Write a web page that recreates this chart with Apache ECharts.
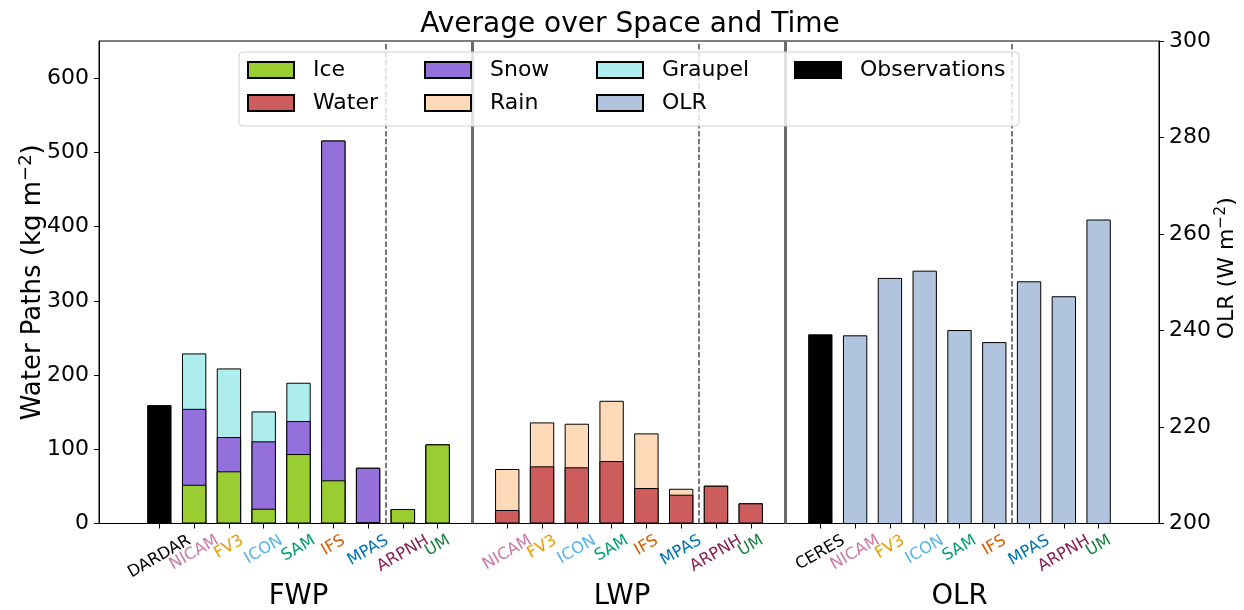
<!DOCTYPE html>
<html>
<head>
<meta charset="utf-8">
<script src="https://cdn.jsdelivr.net/npm/echarts@6/dist/echarts.min.js"></script>
<style>
  html, body { margin: 0; padding: 0; background: #fff; }
  #chart { width: 1244px; height: 610px; }
</style>
</head>
<body>
<div id="chart"></div>
<script>
// ---- data -------------------------------------------------------------
const models      = ['NICAM', 'FV3', 'ICON', 'SAM', 'IFS', 'MPAS', 'ARPNH', 'UM'];
const modelColors = ['#cc79a7', '#e69f00', '#56b4e9', '#009e73', '#d55e00', '#0072b2', '#882255', '#1a8040'];
const obsNames    = ['DARDAR', 'CERES'];
const groupNames  = ['FWP', 'LWP', 'OLR'];

// frozen water path components (kg m-2)
const iceFWP     = [52.2, 70.3, 19.9, 93.6, 58.2, 1.6, 19.5, 106.6];
const snowFWP    = [102.3, 46.2, 90.8, 44.4, 457.7, 73.5, 0, 0];
const graupelFWP = [74.6, 92.4, 40.3, 51.6, 0, 0, 0, 0];
const dardarFWP  = 159.5;

// liquid water path components (kg m-2)
const waterLWP = [18.2, 77.0, 75.7, 84.1, 47.8, 38.8, 50.9, 27.2];
const rainLWP  = [55.2, 59.2, 58.7, 81.2, 73.6, 8.0, 0, 0];

// outgoing longwave radiation (W m-2)
const olrModels = [239.0, 250.9, 252.4, 240.1, 237.6, 250.2, 247.1, 263.0];
const ceresOLR  = 239.2;

const pathTicks = [0, 100, 200, 300, 400, 500, 600];
const olrTicks  = [200, 220, 240, 260, 280, 300];

// ---- layout -----------------------------------------------------------
const FONT = '"DejaVu Sans", "Liberation Sans", sans-serif';
const BAR_W = 0.7;                       // bar width in slot units
const dardarSlot = 0;
const fwpSlot = models.map((_, i) => 1 + i);
const lwpSlot = models.map((_, i) => 10 + i);
const ceresSlot = 19;
const olrSlot = models.map((_, i) => 20 + i);
const sectionBreaks = [9, 18];
const subBreaks = [6.5, 15.5, 24.5];
const groupSlots = [4, 13.3, 23];

const lastSlot = 27;
const span = lastSlot + BAR_W;
const xMin = -BAR_W / 2 - 0.05 * span;
const xMax = lastSlot + BAR_W / 2 + 0.05 * span;

const GRID = { left: 99, right: 85, top: 41, bottom: 86.5 };
const gridWidth = 1244 - GRID.left - GRID.right;
const barPx = BAR_W * gridWidth / (xMax - xMin);

// running totals so each stacked layer is painted from the baseline up,
// tallest layer first
const sumOf = (...parts) => parts[0].map((_, i) => parts.reduce((s, p) => s + p[i], 0));
const snowTop    = sumOf(iceFWP, snowFWP);
const graupelTop = sumOf(iceFWP, snowFWP, graupelFWP);
const rainTop    = sumOf(waterLWP, rainLWP);

const pairs = (slots, vals) => slots.map((x, i) => [x, vals[i]]);

const tickSlots = [dardarSlot, ...fwpSlot, ...lwpSlot, ceresSlot, ...olrSlot];
const tickLabels = [
  { slot: dardarSlot, text: obsNames[0], color: '#000' },
  ...fwpSlot.map((s, i) => ({ slot: s, text: models[i], color: modelColors[i] })),
  ...lwpSlot.map((s, i) => ({ slot: s, text: models[i], color: modelColors[i] })),
  { slot: ceresSlot, text: obsNames[1], color: '#000' },
  ...olrSlot.map((s, i) => ({ slot: s, text: models[i], color: modelColors[i] }))
];

const COLORS = {
  Ice: '#9acd32', Snow: '#9370db', Graupel: '#afeeee',
  Water: '#cd5c5c', Rain: '#ffdab9', OLR: '#b0c4de', Observations: '#000000'
};

function barSeries(name, data, yAxisIndex, extra) {
  return Object.assign({
    name, type: 'bar', data, yAxisIndex,
    barWidth: barPx, barGap: '-100%',
    itemStyle: { color: COLORS[name], borderColor: '#000', borderWidth: 1 },
    emphasis: { disabled: true },
    animation: false
  }, extra || {});
}

const series = [
  barSeries('Observations', [[dardarSlot, dardarFWP]], 0, {
    markLine: {
      silent: true, symbol: ['none', 'none'], label: { show: false }, animation: false,
      data: [
        ...sectionBreaks.map(x => ({ xAxis: x, lineStyle: { color: '#6a6a6a', width: 3, type: 'solid' } })),
        ...subBreaks.map(x => ({ xAxis: x, lineStyle: { color: '#787878', width: 2, type: [5.5, 2.4] } }))
      ]
    }
  }),
  barSeries('Graupel', pairs(fwpSlot, graupelTop), 0),
  barSeries('Snow', pairs(fwpSlot, snowTop), 0),
  barSeries('Ice', pairs(fwpSlot, iceFWP), 0),
  barSeries('Rain', pairs(lwpSlot, rainTop), 0),
  barSeries('Water', pairs(lwpSlot, waterLWP), 0),
  barSeries('OLR', pairs(olrSlot, olrModels), 1),
  barSeries('Observations', [[ceresSlot, ceresOLR]], 1)
];

const legendCols = [['Ice', 'Water'], ['Snow', 'Rain'], ['Graupel', 'OLR'], ['Observations']];
const legendLeft = [247, 424, 596, 794];
const legends = legendCols.map((d, k) => ({
  data: d, orient: 'vertical', left: legendLeft[k], top: 59, padding: 0,
  itemGap: 11, itemWidth: 46, itemHeight: 16, icon: 'rect',
  selectedMode: false, z: 20,
  formatter: n => '{t|' + n + '}',
  textStyle: {
    rich: { t: { fontFamily: FONT, fontSize: 22, color: '#000', lineHeight: 24, padding: [0, 0, 0, 14] } }
  }
}));

const axisText = { fontFamily: FONT, fontSize: 22, color: '#000' };
const supRich = (size, lh) => ({ sup: { fontFamily: FONT, fontSize: size, color: '#000', verticalAlign: 'top', lineHeight: lh } });

const option = {
  animation: false,
  backgroundColor: '#fff',
  title: {
    text: 'Average over Space and Time',
    left: 625, top: 6, textAlign: 'center',
    textStyle: { fontFamily: FONT, fontSize: 28, fontWeight: 'normal', color: '#000' }
  },
  legend: legends,
  grid: Object.assign({ show: true, borderColor: '#000', borderWidth: 1, containLabel: false, outerBoundsMode: 'none' }, GRID),
  xAxis: {
    type: 'value', min: xMin, max: xMax,
    splitLine: { show: false },
    axisLine: { onZero: false, lineStyle: { color: '#000', width: 1 } },
    axisTick: { show: true, length: 5, customValues: tickSlots, lineStyle: { color: '#000' } },
    axisLabel: { show: false }
  },
  yAxis: [
    {
      type: 'value', min: 0, max: 650, position: 'left',
      name: 'Water Paths (kg m{sup|−2})', nameLocation: 'middle', nameRotate: 90, nameGap: 50,
      nameMoveOverlap: false,
      nameTextStyle: { fontFamily: FONT, fontSize: 26, color: '#000', lineHeight: 32, rich: supRich(18, 32) },
      splitLine: { show: false },
      axisLine: { show: true, onZero: false, lineStyle: { color: '#000', width: 1 } },
      axisTick: { show: true, length: 5, customValues: pathTicks, lineStyle: { color: '#000' } },
      axisLabel: Object.assign({ margin: 10, customValues: pathTicks }, axisText)
    },
    {
      type: 'value', min: 200, max: 300, position: 'right',
      name: 'OLR (W m{sup|−2})', nameLocation: 'middle', nameRotate: 90, nameGap: 54,
      nameMoveOverlap: false,
      nameTextStyle: { fontFamily: FONT, fontSize: 22, color: '#000', lineHeight: 28, padding: [0, 0, 0, 28], rich: supRich(15.5, 28) },
      splitLine: { show: false },
      axisLine: { show: true, onZero: false, lineStyle: { color: '#000', width: 1 } },
      axisTick: { show: true, length: 5, customValues: olrTicks, lineStyle: { color: '#000' } },
      axisLabel: Object.assign({ margin: 10, customValues: olrTicks }, axisText)
    }
  ],
  series
};

const chart = echarts.init(document.getElementById('chart'), null, { renderer: 'canvas' });
chart.setOption(option);

// rotated, centred category labels and the group captions under the axis
const TICK_FONT = 16.3;
const ctx = document.createElement('canvas').getContext('2d');
ctx.font = TICK_FONT + 'px "DejaVu Sans"';
const baseY = chart.convertToPixel({ yAxisIndex: 0 }, 0);
const labelTop = baseY + 7.7;
const ang = Math.PI / 6;

const labelElems = tickLabels.map(t => {
  const w = ctx.measureText(t.text).width;
  const boxH = w * Math.sin(ang) + TICK_FONT * 1.164 * Math.cos(ang);
  return {
    type: 'text', silent: true, z: 30,
    x: chart.convertToPixel({ xAxisIndex: 0 }, t.slot),
    y: labelTop + boxH / 2,
    rotation: ang,
    style: {
      text: t.text, fill: t.color, fontFamily: FONT, fontSize: TICK_FONT,
      align: 'center', verticalAlign: 'middle'
    }
  };
});

const groupElems = groupNames.map((g, k) => ({
  type: 'text', silent: true, z: 30,
  x: chart.convertToPixel({ xAxisIndex: 0 }, groupSlots[k]),
  y: 597,
  style: { text: g, fill: '#000', fontFamily: FONT, fontSize: 27.5, align: 'center', verticalAlign: 'middle' }
}));

const legendFrame = {
  type: 'rect', silent: true, z: 10,
  shape: { x: 239, y: 52, width: 780, height: 74, r: 4 },
  style: { fill: 'rgba(255,255,255,0.8)', stroke: '#d0d0d0', lineWidth: 1 }
};

chart.setOption({ graphic: [legendFrame, ...labelElems, ...groupElems] });
</script>
</body>
</html>
